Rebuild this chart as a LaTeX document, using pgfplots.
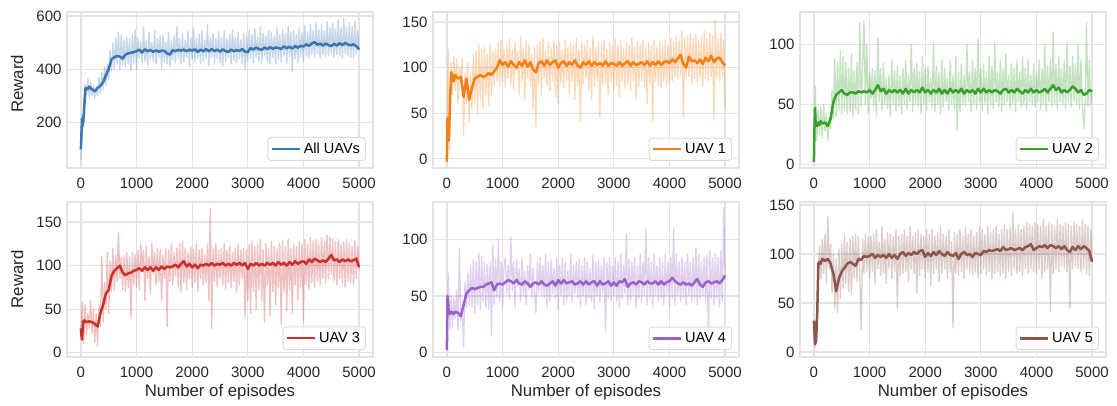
\documentclass[border=0pt]{standalone}
\usepackage{pgfplots}
\pgfplotsset{compat=1.18}
\usepackage{pgfplotstable}
\usepackage{fontspec}
\setmainfont{Liberation Sans}
\definecolor{cb}{HTML}{3A76AF}
\definecolor{co}{HTML}{F57F17}
\definecolor{cg}{HTML}{3A9E2F}
\definecolor{cr}{HTML}{C8302C}
\definecolor{cp}{HTML}{9A62C6}
\definecolor{cn}{HTML}{8C564B}
\definecolor{gridc}{HTML}{E3E3E3}
\pgfplotstableread{
x r0 r1 r2 r3 r4 r5
0 60 -5 2 26 2 30
25 230 120 65 58 70 5
50 180 10 20 10 20 40
75 345 105 45 55 50 78
100 300 70 25 20 22 108
125 365 112 48 45 48 75
150 295 75 22 28 30 115
175 350 110 50 60 55 80
200 300 60 28 22 20 120
225 340 100 42 50 92 70
250 290 85 20 12 28 138
275 335 110 40 45 40 85
300 300 25 30 8 5 110
325 370 95 62 55 62 60
350 310 60 38 30 40 100
375 390 105 88 110 70 45
400 325 40 40 35 42 95
425 410 95 85 80 78 40
450 340 55 45 50 40 105
475 420 115 95 115 82 55
500 360 60 42 45 35 110
525 470 118 90 105 80 65
550 390 50 45 70 42 120
575 500 125 85 120 88 70
600 400 65 42 72 38 112
625 520 120 80 112 85 62
650 420 55 44 82 45 115
675 540 122 92 138 80 60
700 400 70 40 85 40 118
725 530 115 78 110 78 75
750 415 58 46 72 38 120
775 510 125 85 112 80 72
800 410 70 42 70 15 118
825 520 118 118 115 95 76
850 420 80 48 75 42 22
875 515 120 80 110 82 115
900 395 85 120 40 48 80
925 530 128 50 115 100 120
950 420 80 100 78 45 82
975 550 130 42 112 80 118
1000 400 85 77 75 40 75
1025 520 120 55 118 75 118
1050 440 78 80 72 84 82
1075 505 125 48 125 52 120
1100 425 88 78 95 77 70
1125 560 132 40 118 48 125
1150 430 82 105 60 102 85
1175 510 120 52 122 55 112
1200 415 75 80 85 80 78
1225 540 128 45 110 40 128
1250 440 95 84 68 82 80
1275 500 118 50 125 58 115
1300 430 70 72 90 74 70
1325 545 135 46 115 45 122
1350 420 85 74 78 84 85
1375 515 122 40 120 50 120
1400 445 65 87 82 72 75
1425 525 130 50 118 42 118
1450 400 88 78 60 77 82
1475 530 125 45 112 55 125
1500 430 80 82 85 87 45
1525 500 115 48 120 48 118
1550 420 55 74 30 74 78
1575 540 122 42 118 52 120
1600 410 35 80 82 35 80
1625 510 125 50 125 80 125
1650 435 82 87 78 52 82
1675 525 128 46 115 84 118
1700 425 70 74 88 50 72
1725 560 132 52 120 77 128
1750 440 88 100 75 48 85
1775 515 118 44 125 87 118
1800 420 80 80 70 40 80
1825 535 128 50 128 80 122
1850 430 75 84 80 45 60
1875 510 122 48 120 82 125
1900 445 85 77 72 52 78
1925 545 130 42 115 74 120
1950 410 68 90 85 48 85
1975 520 125 50 122 84 118
2000 435 60 80 75 38 75
2025 555 128 45 118 77 125
2050 425 82 82 80 50 82
2075 515 120 52 125 84 120
2100 440 78 72 70 42 68
2125 530 130 48 118 80 125
2150 420 85 102 85 45 80
2175 545 122 44 120 72 118
2200 430 72 82 78 50 85
2225 510 128 50 112 87 122
2250 440 85 77 80 45 72
2275 570 125 42 125 77 128
2300 415 65 87 60 52 80
2325 520 132 48 165 80 120
2350 445 80 80 28 48 85
2375 535 120 52 120 82 118
2400 420 40 72 82 40 75
2425 515 128 45 125 77 125
2450 440 82 87 75 50 82
2475 540 125 50 118 84 112
2500 425 88 74 85 42 25
2525 520 130 46 120 80 122
2550 410 75 90 78 48 80
2575 545 122 28 125 74 120
2600 430 65 77 72 45 78
2625 515 135 44 118 87 125
2650 445 80 84 80 38 82
2675 530 122 50 122 80 118
2700 420 85 74 75 50 75
2725 550 128 48 115 82 128
2750 435 45 100 82 45 85
2775 520 125 52 120 77 120
2800 425 80 77 70 52 80
2825 540 130 44 125 84 125
2850 440 82 87 78 18 78
2875 510 120 50 118 80 118
2900 420 70 80 85 48 82
2925 535 128 46 120 84 122
2950 400 85 105 40 45 75
2975 525 125 52 118 77 128
3000 430 75 80 60 50 80
3025 545 132 45 125 84 125
3050 440 80 84 45 45 85
3075 530 125 50 128 80 120
3100 425 68 77 70 40 78
3125 555 130 42 122 87 128
3150 445 85 90 50 48 82
3175 520 122 50 125 77 122
3200 430 78 82 72 52 75
3225 560 128 46 130 105 125
3250 420 82 102 60 42 80
3275 535 125 52 118 82 128
3300 450 75 77 35 45 82
3325 525 132 48 125 80 120
3350 430 85 87 78 50 78
3375 545 122 44 120 84 125
3400 420 65 80 42 40 80
3425 540 128 50 128 77 130
3450 445 80 92 70 48 75
3475 525 125 52 122 87 125
3500 420 85 74 55 45 82
3525 555 130 46 120 80 128
3550 440 78 84 75 50 78
3575 530 122 50 125 110 142
3600 425 60 80 32 42 85
3625 550 128 44 128 84 125
3650 450 82 87 70 48 80
3675 535 125 52 122 80 130
3700 420 40 77 48 40 82
3725 560 130 48 130 87 125
3750 445 85 90 72 50 78
3775 540 122 50 120 77 128
3800 390 80 80 45 45 85
3825 545 128 46 125 84 132
3850 440 78 87 78 48 80
3875 530 125 52 122 80 130
3900 425 85 74 60 42 85
3925 555 130 50 128 87 128
3950 445 80 84 75 50 82
3975 540 125 48 125 80 132
4000 430 82 77 35 40 80
4025 565 132 52 130 84 130
4050 450 85 87 78 48 85
4075 540 128 46 125 110 128
4100 440 90 80 72 42 75
4125 570 135 50 132 87 135
4150 455 88 100 80 50 82
4175 545 130 44 128 80 128
4200 445 92 82 75 45 85
4225 575 140 52 130 84 132
4250 460 45 87 82 48 42
4275 550 132 48 125 80 130
4300 440 88 110 78 42 80
4325 570 135 50 132 87 128
4350 455 90 84 85 50 85
4375 545 138 46 128 80 135
4400 445 82 90 80 45 82
4425 580 132 52 135 84 130
4450 450 88 80 85 48 88
4475 555 135 50 132 92 128
4500 460 85 87 90 42 85
4525 575 130 46 130 87 132
4550 445 88 102 82 48 82
4575 550 135 52 128 80 130
4600 455 80 82 78 50 45
4625 585 140 48 130 84 128
4650 450 88 90 85 45 85
4675 560 132 52 125 87 132
4700 440 85 84 80 10 88
4725 590 138 50 128 90 130
4750 460 90 100 75 48 85
4775 555 135 46 130 84 128
4800 450 42 87 82 42 82
4825 575 152 52 125 87 135
4850 445 88 30 80 48 85
4875 560 132 50 122 84 130
4900 440 85 118 78 40 80
4925 580 138 48 128 90 128
4950 455 90 87 85 45 78
4975 545 130 50 122 128 125
5000 470 55 62 95 68 92
}\raw
\pgfplotstableread{
x s0 s1 s2 s3 s4 s5
0 100 -3 2 28 2 32
10 160 45 30 20 50 20
20 215 40 47 15 45 8
30 190 20 35 25 38 10
40 200 30 33 36 35 12
60 260 70 32 37 34 40
80 330 95 35 35 36 90
100 330 90 33 36 35 92
120 325 85 36 35 34 90
150 335 92 34 36 36 95
200 325 88 35 35 35 93
250 318 90 32 33 32 95
300 330 68 38 30 42 90
350 338 88 52 45 52 80
400 352 65 58 55 55 62
450 378 78 60 68 57 75
500 402 88 62 72 56 82
550 438 90 59 88 57 86
600 445 92 58 94 58 90
650 450 90 60 97 58 92
700 448 91 60 100 60 90
750 440 94 59 92 61 88
800 455 92 61 89 62 95
850 460 96 60 91 55 94
900 462 100 61 92 60 98
950 465 108 60 94 61 97
1000 468 103 62 95 60 98
1050 474 106 59 97 62 100
1100 463 101 62 94 64 96
1150 475 107 66 98 63 99
1200 468 103 61 95 61 97
1250 472 100 63 98 64 99
1300 466 106 59 94 61 96
1350 471 102 62 98 60 100
1400 466 108 60 95 63 96
1450 470 101 62 99 61 99
1500 469 106 60 96 58 95
1550 460 98 62 99 61 100
1600 455 95 59 98 62 102
1650 472 105 63 99 60 98
1700 468 107 59 101 63 101
1750 473 102 62 98 60 99
1800 470 108 60 102 59 102
1850 474 103 62 105 61 100
1900 468 106 60 99 63 103
1950 474 108 64 102 59 104
2000 470 100 60 98 64 97
2050 475 105 62 101 61 101
2100 465 107 59 97 64 98
2150 474 102 62 101 61 102
2200 468 106 60 100 62 99
2250 476 103 63 102 63 103
2300 467 108 59 100 60 100
2350 476 102 62 103 61 98
2400 468 100 59 100 63 102
2450 474 106 63 102 60 99
2500 466 103 60 101 63 98
2550 475 107 62 103 60 101
2600 468 102 60 100 62 95
2650 465 106 63 102 63 100
2700 474 103 59 100 59 102
2750 468 105 62 103 63 99
2800 472 102 60 101 60 100
2850 469 107 62 103 61 97
2900 476 102 59 100 63 101
2950 466 105 63 103 59 100
3000 465 104 60 96 62 99
3050 480 102 63 102 59 103
3100 474 106 60 100 63 102
3150 482 102 62 103 62 104
3200 476 105 60 100 65 103
3250 473 107 62 102 58 104
3300 482 102 61 100 61 105
3350 476 106 59 103 62 103
3400 483 103 62 101 60 107
3450 477 104 63 103 63 104
3500 482 106 60 100 62 105
3550 480 103 62 104 60 106
3600 477 107 60 101 63 104
3650 486 102 63 103 61 105
3700 479 106 61 100 61 106
3750 485 103 59 104 63 104
3800 478 107 62 101 60 107
3850 487 103 60 105 63 108
3900 481 106 63 102 60 110
3950 488 107 60 104 62 104
4000 486 105 62 105 63 106
4050 494 109 60 102 66 108
4100 488 106 61 107 63 107
4150 497 110 63 104 61 109
4200 502 114 60 108 60 106
4250 492 104 63 106 62 109
4300 497 100 66 104 60 108
4350 489 112 62 106 61 106
4400 497 107 64 104 59 108
4450 491 108 60 108 62 105
4500 487 105 62 112 65 108
4550 496 109 60 106 60 104
4600 489 104 62 107 58 102
4650 498 111 65 104 62 107
4700 491 107 63 107 63 104
4750 499 113 60 105 61 108
4800 493 106 62 107 62 105
4850 490 110 58 105 63 108
4900 494 111 59 106 61 106
4950 487 106 62 108 64 103
5000 475 102 61 98 68 92
}\smo
\pgfplotsset{
  panel/.style={
    scale only axis, width=306pt, height=156pt, anchor=south west,
    xmin=-250, xmax=5250, xtick={0,1000,2000,3000,4000,5000},
    scaled ticks=false,
    /pgf/number format/assume math mode=true,
    /pgf/number format/1000 sep={},
    grid=major, major grid style={line width=1.2pt, draw=gridc},
    axis line style={line width=1.2pt, draw=gridc},
    major tick length=0pt, tick style={draw=none},
    tick label style={font=\fontsize{15}{18}\selectfont, text=black!85},
    xticklabel style={inner sep=0pt, anchor=north, yshift=-9.5pt},
    yticklabel style={xshift=-2pt},
    label style={font=\fontsize{16.8}{20}\selectfont, text=black!85},
    xlabel style={at={(axis description cs:0.5,0)}, anchor=north, inner sep=0pt, yshift=-27pt},
    legend style={at={(0.977,0.045)}, anchor=south east, draw=black!14,
      line width=1pt, rounded corners=3pt, fill=white, fill opacity=0.85,
      text opacity=1, font=\fontsize{14.5}{17}\selectfont,
      inner xsep=3pt, inner ysep=3pt, nodes={inner sep=2.5pt}},
    legend image code/.code={\draw[##1] (0pt,0pt) -- (28pt,0pt);},
  },
  raw/.style={forget plot, line width=1.3pt, opacity=0.3, line join=round},
  sm/.style={line width=2.5pt, line join=round},
}
\begin{document}
\begin{tikzpicture}
\path[use as bounding box] (0,0) rectangle (1117pt,405pt);
% row 1
\begin{axis}[panel, at={(67pt,237pt)}, ymin=30, ymax=615, ytick={200,400,600},
  ylabel={Reward}, ylabel style={at={(axis description cs:-0.163,0.54)}, anchor=center}]
\addplot[raw, cb] table[x=x, y=r0] {\raw};
\addplot[sm, cb] table[x=x, y=s0] {\smo};
\addlegendentry{All UAVs}
\end{axis}
\begin{axis}[panel, at={(433pt,237pt)}, ymin=-10, ymax=161, ytick={0,50,100,150}]
\addplot[raw, co] table[x=x, y=r1] {\raw};
\addplot[sm, co] table[x=x, y=s1] {\smo};
\addlegendentry{UAV 1}
\end{axis}
\begin{axis}[panel, at={(800pt,237pt)}, ymin=-3, ymax=127, ytick={0,50,100}]
\addplot[raw, cg] table[x=x, y=r2] {\raw};
\addplot[sm, cg] table[x=x, y=s2] {\smo};
\addlegendentry{UAV 2}
\end{axis}
% row 2
\begin{axis}[panel, at={(67pt,48pt)}, height=155pt, ymin=-5, ymax=173, ytick={0,50,100,150},
  ylabel={Reward}, ylabel style={at={(axis description cs:-0.163,0.5)}, anchor=center},
  xlabel={Number of episodes}]
\addplot[raw, cr] table[x=x, y=r3] {\raw};
\addplot[sm, cr] table[x=x, y=s3] {\smo};
\addlegendentry{UAV 3}
\end{axis}
\begin{axis}[panel, at={(433pt,48pt)}, height=155pt, ymin=-4, ymax=133, ytick={0,50,100},
  xlabel={Number of episodes}]
\addplot[raw, cp] table[x=x, y=r4] {\raw};
\addplot[sm, cp] table[x=x, y=s4] {\smo};
\addlegendentry{UAV 4}
\end{axis}
\begin{axis}[panel, at={(800pt,48pt)}, height=155pt, ymin=-5, ymax=153, ytick={0,50,100,150},
  xlabel={Number of episodes}]
\addplot[raw, cn] table[x=x, y=r5] {\raw};
\addplot[sm, cn] table[x=x, y=s5] {\smo};
\addlegendentry{UAV 5}
\end{axis}
\end{tikzpicture}
\end{document}
